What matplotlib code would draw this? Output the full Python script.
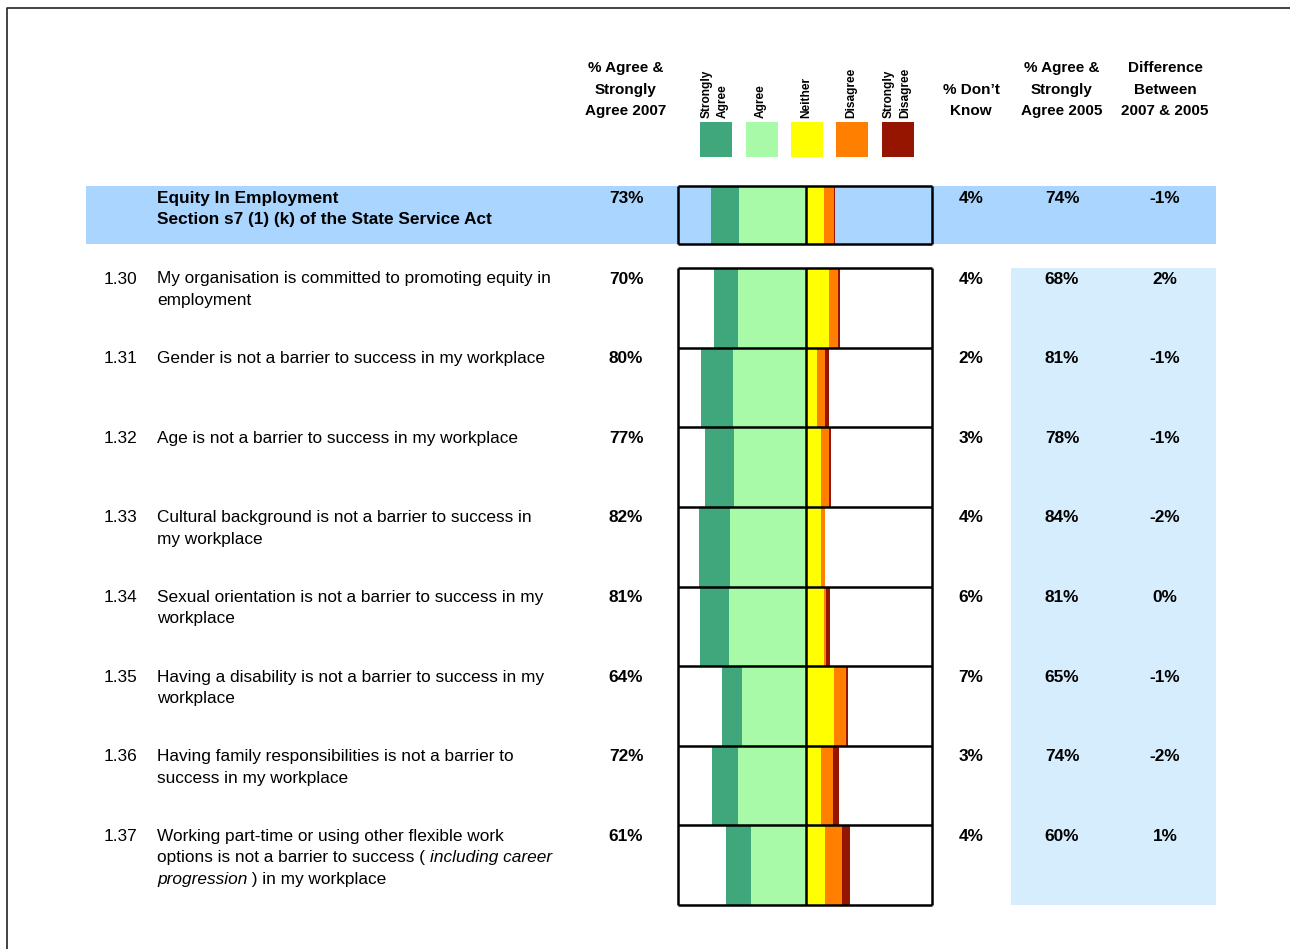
import matplotlib.pyplot as plt

plt.rcParams['font.family'] = ['Liberation Sans', 'DejaVu Sans']

# survey items
codes = ['1.30', '1.31', '1.32', '1.33', '1.34', '1.35', '1.36', '1.37']
questions = [
    ['My organisation is committed to promoting equity in', 'employment'],
    ['Gender is not a barrier to success in my workplace'],
    ['Age is not a barrier to success in my workplace'],
    ['Cultural background is not a barrier to success in', 'my workplace'],
    ['Sexual orientation is not a barrier to success in my', 'workplace'],
    ['Having a disability is not a barrier to success in my', 'workplace'],
    ['Having family responsibilities is not a barrier to', 'success in my workplace'],
    ['Working part-time or using other flexible work',
     'options is not a barrier to success ( *including career*',
     '*progression* ) in my workplace'],
]
agree_2007 = [70, 80, 77, 82, 81, 64, 72, 61]
dont_know = [4, 2, 3, 4, 6, 7, 3, 4]
agree_2005 = [68, 81, 78, 84, 81, 65, 74, 60]
difference = [2, -1, -1, -2, 0, -1, -2, 1]

strongly_agree = [18, 24, 22, 24, 22, 15, 20, 19]
agree = [52, 56, 55, 58, 59, 49, 52, 42]
neither = [18, 9, 12, 12, 14, 22, 12, 15]
disagree = [7, 6, 6, 3, 1.5, 9, 9, 13]
strongly_disagree = [1.5, 3, 1.5, 0, 3, 1.5, 4.5, 6]

# section summary
section_title = ['Equity In Employment', 'Section s7 (1) (k) of the State Service Act']
section_vals = {'sa': 22, 'a': 51, 'n': 14, 'd': 8, 'sd': 0.5,
                'agree_2007': 73, 'dont_know': 4, 'agree_2005': 74, 'difference': -1}

scale_names = ['Strongly\nAgree', 'Agree', 'Neither', 'Disagree', 'Strongly\nDisagree']
scale_colors = ['#3FA77B', '#A8FAA8', '#FFFF00', '#FF7F00', '#951500']

W, H = 1290, 949
fig = plt.figure(figsize=(W / 100, H / 100), dpi=100)
ax = fig.add_axes([0, 0, 1, 1])
ax.set_xlim(0, W)
ax.set_ylim(H, 0)
ax.axis('off')

BAND = '#A9D5FE'
PALE = '#D6EDFD'
FS = 12.4

# page frame
ax.plot([7, 7, W], [H, 8, 8], color='#222222', lw=1.2)

# column positions
x_code, x_text = 104, 157
x_a07, x_dk, x_a05, x_diff = 626, 971, 1062, 1165
bar_l, bar_r = 678, 932
sec_top, sec_bot = 186, 244
rows_top, rows_bot = 268, 905
row_h = (rows_bot - rows_top) / len(codes)
line_h = 21.5

# column headings
for x, lines in [(x_a07, ['% Agree &', 'Strongly', 'Agree 2007']),
                 (x_dk, ['% Don\u2019t', 'Know']),
                 (x_a05, ['% Agree &', 'Strongly', 'Agree 2005']),
                 (x_diff, ['Difference', 'Between', '2007 & 2005'])]:
    y0 = 111 - (len(lines) - 1) * line_h
    for k, s in enumerate(lines):
        ax.text(x, y0 + k * line_h, s, ha='center', va='center',
                fontsize=11, fontweight='bold')

# legend swatches with rotated names
sw_x = [716, 762, 807, 852, 898]
for x, name, c in zip(sw_x, scale_names, scale_colors):
    ax.add_patch(plt.Rectangle((x - 16, 122), 32, 35, color=c, lw=0))
    ax.text(x - 1, 118, name, rotation=90, ha='center', va='bottom',
            multialignment='left', fontsize=8.6, fontweight='bold',
            linespacing=1.45)

# background bands
ax.add_patch(plt.Rectangle((86, sec_top), 1216 - 86, sec_bot - sec_top,
                           color=BAND, lw=0, zorder=0))
ax.add_patch(plt.Rectangle((1011, rows_top), 1216 - 1011, rows_bot - rows_top,
                           color=PALE, lw=0, zorder=0))

renderer = fig.canvas.get_renderer()


def rich_line(x, y, line, **kw):
    # text with *italic* parts, drawn piece by piece
    parts = line.split('*')
    for i, part in enumerate(parts):
        if not part:
            continue
        t = ax.text(x, y, part, ha='left', va='center', fontsize=FS,
                    fontstyle='italic' if i % 2 else 'normal', **kw)
        bb = t.get_window_extent(renderer)
        x = bb.x1


# section heading row
for k, s in enumerate(section_title):
    ax.text(x_text, 198 + k * line_h, s, ha='left', va='center',
            fontsize=FS, fontweight='bold')
for x, v in [(x_a07, section_vals['agree_2007']), (x_dk, section_vals['dont_know']),
             (x_a05, section_vals['agree_2005']), (x_diff, section_vals['difference'])]:
    ax.text(x, 198, f'{v}%', ha='center', va='center', fontsize=FS, fontweight='bold')

# question rows
for i, code in enumerate(codes):
    y = rows_top + i * row_h + 11
    ax.text(x_code, y, code, ha='left', va='center', fontsize=FS)
    for k, line in enumerate(questions[i]):
        rich_line(x_text, y + k * line_h, line)
    for x, v in [(x_a07, agree_2007[i]), (x_dk, dont_know[i]),
                 (x_a05, agree_2005[i]), (x_diff, difference[i])]:
        ax.text(x, y, f'{v}%', ha='center', va='center', fontsize=FS,
                fontweight='bold')

# diverging bars
bx = fig.add_axes([bar_l / W, 1 - rows_bot / H, (bar_r - bar_l) / W,
                   (rows_bot - sec_top) / H])
bx.set_xlim(-98, 97)
bx.set_ylim(rows_bot, sec_top)
bx.axis('off')
bx.patch.set_alpha(0)

tops = [sec_top] + [rows_top + i * row_h for i in range(len(codes))]
heights = [sec_bot - sec_top] + [row_h] * len(codes)
sa = [section_vals['sa']] + strongly_agree
ag = [section_vals['a']] + agree
ne = [section_vals['n']] + neither
di = [section_vals['d']] + disagree
sd = [section_vals['sd']] + strongly_disagree

for t, h, s1, s2, s3, s4, s5 in zip(tops, heights, sa, ag, ne, di, sd):
    yc = t + h / 2
    bx.barh(yc, s1, left=-(s1 + s2), height=h, color=scale_colors[0], lw=0)
    bx.barh(yc, s2, left=-s2, height=h, color=scale_colors[1], lw=0)
    bx.barh(yc, s3, left=0, height=h, color=scale_colors[2], lw=0)
    bx.barh(yc, s4, left=s3, height=h, color=scale_colors[3], lw=0)
    bx.barh(yc, s5, left=s3 + s4, height=h, color=scale_colors[4], lw=0)

# grid lines round the bars
lk = dict(color='black', lw=1.8, clip_on=False)
for x in (-98, 0, 97):
    bx.vlines(x, sec_top, sec_bot, **lk)
    bx.vlines(x, rows_top, rows_bot, **lk)
bx.hlines([sec_top, sec_bot], -98, 97, **lk)
bx.hlines([rows_top + i * row_h for i in range(len(codes) + 1)], -98, 97, **lk)

fig.savefig('out.png', dpi=100)
